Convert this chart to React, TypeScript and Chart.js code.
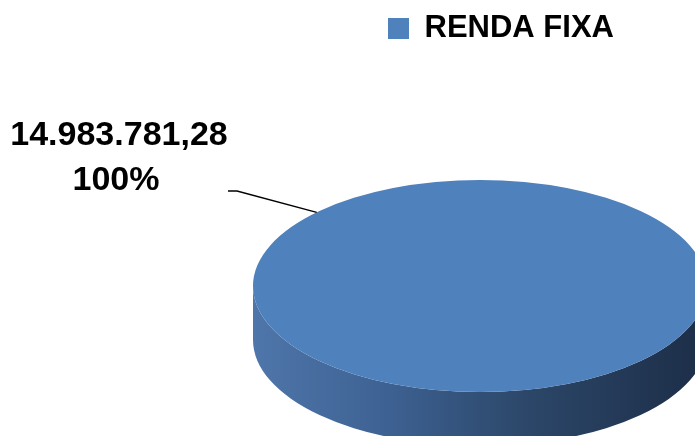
import React, { useEffect, useRef } from 'react';
import { Chart, registerables } from 'chart.js';

Chart.register(...registerables);

// ---- data ----
const categories = ['RENDA FIXA'];
const values = [14983781.28];
const valueLabels = ['14.983.781,28'];
const percentLabels = ['100%'];
const sliceColors = ['#4f81bd'];

// ---- style / layout ----
const FONT = '"Liberation Sans", Arial, sans-serif';
const PIE = { cx: 480, cy: 286, rx: 227, ry: 106, depth: 54 };
const SIDE_STOPS: [number, string][] = [
  [0, '#4f76aa'],
  [0.3, '#3d6192'],
  [0.6, '#2c4769'],
  [1, '#1c2d47'],
];
const LABEL = { anchorDeg: 224, elbowX: 237, elbowY: 191, endX: 228, textX: 119, line1Y: 145, line2Y: 190, size: 34 };

const pie3d = {
  id: 'pie3d',
  beforeDatasetsDraw(chart: any) {
    const ctx: CanvasRenderingContext2D = chart.ctx;
    const meta = chart.getDatasetMeta(0);
    const { cx, cy, rx, ry, depth } = PIE;
    ctx.save();
    meta.data.forEach((arc: any) => {
      const p = arc.getProps(['startAngle', 'endAngle'], true);
      // visible side = part of the arc lying in the lower half [0, PI]
      const s = p.startAngle, e = p.endAngle;
      const ranges: [number, number][] = [];
      for (let k = -2; k <= 2; k++) {
        const a = Math.max(s, 0 + k * 2 * Math.PI);
        const b = Math.min(e, Math.PI + k * 2 * Math.PI);
        if (b > a) ranges.push([a - k * 2 * Math.PI, b - k * 2 * Math.PI]);
      }
      ranges.forEach(([a, b]) => {
        const g = ctx.createLinearGradient(cx - rx, 0, cx + rx, 0);
        SIDE_STOPS.forEach(([o, c]) => g.addColorStop(o, c));
        ctx.fillStyle = g;
        ctx.beginPath();
        ctx.ellipse(cx, cy + depth, rx, ry, 0, a, b);
        ctx.ellipse(cx, cy, rx, ry, 0, b, a, true);
        ctx.closePath();
        ctx.fill();
      });
    });
    ctx.restore();
    const first = meta.data[0];
    if (!first) return;
    const { x, y, outerRadius } = first.getProps(['x', 'y', 'outerRadius'], true);
    ctx.save();
    ctx.translate(cx, cy);
    ctx.scale(rx / outerRadius, ry / outerRadius);
    ctx.translate(-x, -y);
  },
  afterDatasetsDraw(chart: any) {
    const ctx: CanvasRenderingContext2D = chart.ctx;
    ctx.restore();
    const { cx, cy, rx, ry } = PIE;
    const t = (LABEL.anchorDeg * Math.PI) / 180;
    const ax = cx + rx * Math.cos(t);
    const ay = cy + ry * Math.sin(t);
    ctx.save();
    ctx.strokeStyle = '#000';
    ctx.lineWidth = 1.5;
    ctx.beginPath();
    ctx.moveTo(ax, ay);
    ctx.lineTo(LABEL.elbowX, LABEL.elbowY);
    ctx.lineTo(LABEL.endX, LABEL.elbowY);
    ctx.stroke();
    ctx.fillStyle = '#000';
    ctx.font = `bold ${LABEL.size}px ${FONT}`;
    ctx.textAlign = 'center';
    ctx.textBaseline = 'alphabetic';
    ctx.fillText(valueLabels[0], LABEL.textX, LABEL.line1Y);
    ctx.fillText(percentLabels[0], LABEL.textX - 3, LABEL.line2Y);
    ctx.restore();
  },
};

export default function App() {
  const ref = useRef<HTMLCanvasElement>(null);
  useEffect(() => {
    if (!ref.current) return;
    const chart = new Chart(ref.current, {
      type: 'pie',
      data: {
        labels: categories,
        datasets: [
          {
            data: values,
            backgroundColor: sliceColors,
            borderWidth: 0,
            clip: false as any,
          },
        ],
      },
      options: {
        animation: false,
        responsive: true,
        maintainAspectRatio: false,
        layout: { padding: { left: 307, top: 3, right: 0, bottom: 0 } },
        plugins: {
          tooltip: { enabled: false },
          legend: {
            position: 'top',
            align: 'center',
            labels: {
              boxWidth: 21,
              boxHeight: 21,
              padding: 10,
              color: '#000',
              font: { family: FONT, size: 31, weight: 'bold' },
            },
          },
        },
      },
      plugins: [pie3d],
    });
    return () => chart.destroy();
  }, []);
  return (
    <div style={{ position: 'fixed', left: 0, top: 0, width: 695, height: 436, background: '#fff' }}>
      <canvas ref={ref} />
    </div>
  );
}
